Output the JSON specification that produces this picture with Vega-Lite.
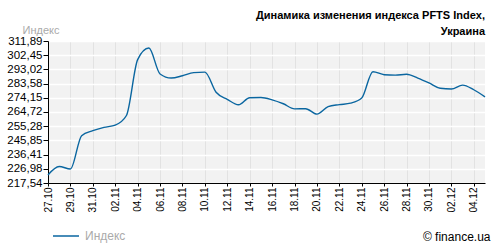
{
  "$schema": "https://vega.github.io/schema/vega-lite/v6.json",
  "width": 437,
  "height": 142,
  "autosize": "none",
  "padding": {"left": 48, "top": 41, "right": 15, "bottom": 67},
  "background": "#ffffff",
  "title": {
    "text": ["Динамика изменения индекса PFTS Index,", "Украина"],
    "anchor": "end",
    "frame": "group",
    "font": "Liberation Sans",
    "fontSize": 11,
    "fontWeight": "bold",
    "color": "#000000",
    "lineHeight": 16,
    "offset": 6,
    "dy": 19
  },
  "config": {
    "view": {"fill": "#f2f2f2", "stroke": null},
    "font": "Liberation Sans"
  },
  "data": {
    "values": [
      {"date": "2012-10-27T00:00:00", "value": 222.9, "series": "Индекс"},
      {"date": "2012-10-28T00:00:00", "value": 228.5, "series": "Индекс"},
      {"date": "2012-10-29T00:00:00", "value": 226.8, "series": "Индекс"},
      {"date": "2012-10-30T00:00:00", "value": 249.0, "series": "Индекс"},
      {"date": "2012-10-31T00:00:00", "value": 252.3, "series": "Индекс"},
      {"date": "2012-11-01T00:00:00", "value": 254.5, "series": "Индекс"},
      {"date": "2012-11-02T00:00:00", "value": 256.0, "series": "Индекс"},
      {"date": "2012-11-03T00:00:00", "value": 262.4, "series": "Индекс"},
      {"date": "2012-11-04T00:00:00", "value": 299.5, "series": "Индекс"},
      {"date": "2012-11-05T00:00:00", "value": 307.2, "series": "Индекс"},
      {"date": "2012-11-06T00:00:00", "value": 290.0, "series": "Индекс"},
      {"date": "2012-11-07T00:00:00", "value": 287.3, "series": "Индекс"},
      {"date": "2012-11-08T00:00:00", "value": 288.8, "series": "Индекс"},
      {"date": "2012-11-09T00:00:00", "value": 290.9, "series": "Индекс"},
      {"date": "2012-11-10T00:00:00", "value": 291.2, "series": "Индекс"},
      {"date": "2012-11-11T00:00:00", "value": 277.8, "series": "Индекс"},
      {"date": "2012-11-12T00:00:00", "value": 273.1, "series": "Индекс"},
      {"date": "2012-11-13T00:00:00", "value": 269.5, "series": "Индекс"},
      {"date": "2012-11-14T00:00:00", "value": 274.2, "series": "Индекс"},
      {"date": "2012-11-15T00:00:00", "value": 274.3, "series": "Индекс"},
      {"date": "2012-11-16T00:00:00", "value": 272.8, "series": "Индекс"},
      {"date": "2012-11-17T00:00:00", "value": 270.2, "series": "Индекс"},
      {"date": "2012-11-18T00:00:00", "value": 266.8, "series": "Индекс"},
      {"date": "2012-11-19T00:00:00", "value": 266.9, "series": "Индекс"},
      {"date": "2012-11-20T00:00:00", "value": 263.3, "series": "Индекс"},
      {"date": "2012-11-21T00:00:00", "value": 268.3, "series": "Индекс"},
      {"date": "2012-11-22T00:00:00", "value": 269.6, "series": "Индекс"},
      {"date": "2012-11-23T00:00:00", "value": 270.6, "series": "Индекс"},
      {"date": "2012-11-24T00:00:00", "value": 274.0, "series": "Индекс"},
      {"date": "2012-11-25T00:00:00", "value": 291.5, "series": "Индекс"},
      {"date": "2012-11-26T00:00:00", "value": 289.5, "series": "Индекс"},
      {"date": "2012-11-27T00:00:00", "value": 289.2, "series": "Индекс"},
      {"date": "2012-11-28T00:00:00", "value": 289.8, "series": "Индекс"},
      {"date": "2012-11-29T00:00:00", "value": 287.2, "series": "Индекс"},
      {"date": "2012-11-30T00:00:00", "value": 284.0, "series": "Индекс"},
      {"date": "2012-12-01T00:00:00", "value": 280.5, "series": "Индекс"},
      {"date": "2012-12-02T00:00:00", "value": 280.0, "series": "Индекс"},
      {"date": "2012-12-03T00:00:00", "value": 282.6, "series": "Индекс"},
      {"date": "2012-12-04T00:00:00", "value": 279.5, "series": "Индекс"},
      {"date": "2012-12-05T00:00:00", "value": 274.8, "series": "Индекс"}
    ]
  },
  "mark": {"type": "line", "interpolate": "monotone", "strokeWidth": 1.4},
  "encoding": {
    "x": {
      "field": "date",
      "type": "temporal",
      "scale": {"domain": ["2012-10-27T00:00:00", "2012-12-05T00:00:00"], "nice": false},
      "axis": {
        "values": ["2012-10-27T00:00:00", "2012-10-29T00:00:00", "2012-10-31T00:00:00", "2012-11-02T00:00:00", "2012-11-04T00:00:00", "2012-11-06T00:00:00", "2012-11-08T00:00:00", "2012-11-10T00:00:00", "2012-11-12T00:00:00", "2012-11-14T00:00:00", "2012-11-16T00:00:00", "2012-11-18T00:00:00", "2012-11-20T00:00:00", "2012-11-22T00:00:00", "2012-11-24T00:00:00", "2012-11-26T00:00:00", "2012-11-28T00:00:00", "2012-11-30T00:00:00", "2012-12-02T00:00:00", "2012-12-04T00:00:00"],
        "format": "%d.%m",
        "labelAngle": -90,
        "labelFontSize": 10,
        "labelColor": "#000000",
        "labelPadding": 1,
        "labelFlush": false,
        "labelOverlap": false,
        "tickSize": 3,
        "tickColor": "#000000",
        "domainColor": "#000000",
        "grid": true,
        "gridColor": "#e2e2e2",
        "gridOpacity": 1,
        "title": "© finance.ua",
        "titleX": 442,
        "titleY": 53,
        "titleAlign": "right",
        "titleBaseline": "middle",
        "titleFontSize": 12,
        "titleFontWeight": "normal",
        "titleColor": "#000000"
      }
    },
    "y": {
      "field": "value",
      "type": "quantitative",
      "scale": {"domain": [217.54, 311.89], "nice": false, "zero": false},
      "axis": {
        "values": [217.54, 226.98, 236.41, 245.85, 255.28, 264.72, 274.15, 283.58, 293.02, 302.45, 311.89],
        "labelExpr": "replace(format(datum.value, '.2f'), '.', ',')",
        "labelFontSize": 11.5,
        "labelColor": "#000000",
        "labelPadding": 1,
        "labelFlush": false,
        "labelOverlap": false,
        "tickSize": 5,
        "tickColor": "#000000",
        "domainColor": "#000000",
        "grid": true,
        "gridColor": "#ffffff",
        "gridOpacity": 1,
        "gridWidth": 1.5,
        "title": "Индекс",
        "titleAngle": 0,
        "titleX": 11,
        "titleY": -11,
        "titleAlign": "right",
        "titleBaseline": "middle",
        "titleFontSize": 11,
        "titleFontWeight": "normal",
        "titleColor": "#aaaaaa"
      }
    },
    "color": {
      "field": "series",
      "type": "nominal",
      "scale": {"range": ["#0a66a0"]},
      "legend": {
        "title": null,
        "orient": "none",
        "legendX": 4,
        "legendY": 181,
        "symbolType": "stroke",
        "symbolSize": 676,
        "symbolStrokeWidth": 1.5,
        "labelFontSize": 12,
        "labelColor": "#aaaaaa",
        "labelOffset": 5,
        "padding": 0
      }
    }
  }
}
